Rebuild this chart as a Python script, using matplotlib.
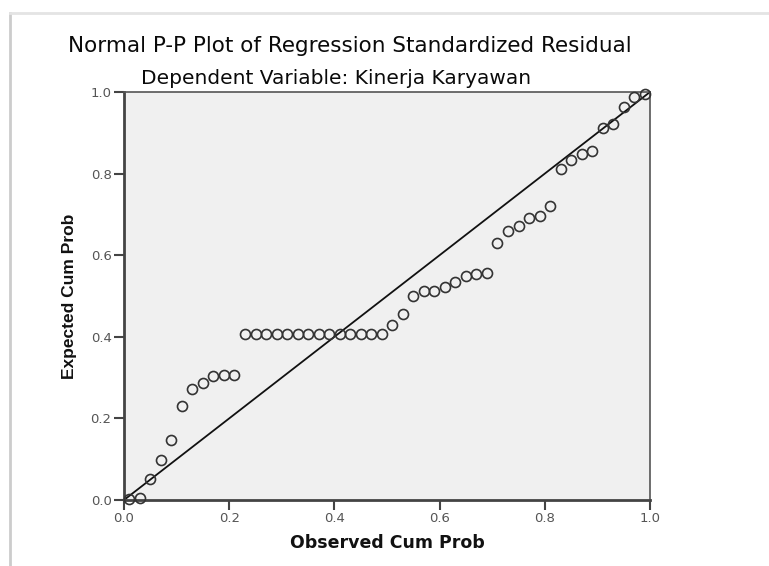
import matplotlib
matplotlib.use("Agg")
import matplotlib.pyplot as plt
from matplotlib.lines import Line2D

title = "Normal P-P Plot of Regression Standardized Residual"
subtitle = "Dependent Variable: Kinerja Karyawan"
xlabel = "Observed Cum Prob"
ylabel = "Expected Cum Prob"
tick_values = [0.0, 0.2, 0.4, 0.6, 0.8, 1.0]
tick_labels = ["0.0", "0.2", "0.4", "0.6", "0.8", "1.0"]

observed = [0.01, 0.03, 0.05, 0.07, 0.09, 0.11, 0.13, 0.15, 0.17, 0.19,
            0.21, 0.23, 0.25, 0.27, 0.29, 0.31, 0.33, 0.35, 0.37, 0.39,
            0.41, 0.43, 0.45, 0.47, 0.49, 0.51, 0.53, 0.55, 0.57, 0.59,
            0.61, 0.63, 0.65, 0.67, 0.69, 0.71, 0.73, 0.75, 0.77, 0.79,
            0.81, 0.83, 0.85, 0.87, 0.89, 0.91, 0.93, 0.95, 0.97, 0.99]
expected = [0.002, 0.005, 0.052, 0.098, 0.146, 0.230, 0.271, 0.286, 0.304, 0.306,
            0.306, 0.406, 0.406, 0.406, 0.406, 0.406, 0.406, 0.406, 0.406, 0.406,
            0.406, 0.406, 0.406, 0.406, 0.406, 0.429, 0.455, 0.501, 0.513, 0.513,
            0.523, 0.535, 0.549, 0.555, 0.557, 0.629, 0.660, 0.671, 0.691, 0.696,
            0.720, 0.812, 0.833, 0.847, 0.855, 0.912, 0.921, 0.963, 0.988, 0.994]

plt.rcParams['font.family'] = ['DejaVu Sans']

W, H = 769, 566
fig = plt.figure(figsize=(W / 100, H / 100), dpi=100)
fig.patch.set_facecolor('white')

# axes rectangle in pixels: left 124, right 650, top 92, bottom 500
L, R, T, B = 124, 650, 92, 500
ax = fig.add_axes([L / W, 1 - B / H, (R - L) / W, (B - T) / H])
ax.set_facecolor('#f0f0f0')
ax.set_xlim(0, 1)
ax.set_ylim(0, 1)

ax.plot([0, 1], [0, 1], color='#111111', lw=1.3, zorder=2)
ax.plot(observed, expected, linestyle='none', marker='o', markersize=7.2,
        markerfacecolor='none', markeredgecolor='#333333', markeredgewidth=1.2,
        zorder=3, clip_on=False)

ax.set_xticks(tick_values)
ax.set_xticklabels(tick_labels)
ax.set_yticks(tick_values)
ax.set_yticklabels(tick_labels)
ax.tick_params(direction='out', length=7, width=1.5, color='#444444',
               labelcolor='#555555', labelsize=9.5, pad=2)

for side in ['left', 'bottom']:
    ax.spines[side].set_linewidth(2.0)
    ax.spines[side].set_color('#444444')
for side in ['top', 'right']:
    ax.spines[side].set_linewidth(1.2)
    ax.spines[side].set_color('#555555')

ax.set_xlabel(xlabel, fontsize=12.5, fontweight='bold', color='#111111', labelpad=6)
ax.set_ylabel(ylabel, fontsize=12.5, fontweight='bold', color='#111111', labelpad=10,
              family=['Liberation Sans', 'DejaVu Sans'])

fig.text(350 / W, 1 - 46 / H, title, ha='center', va='center', fontsize=15.5,
         color='#0a0a0a')
fig.text(336 / W, 1 - 78 / H, subtitle, ha='center', va='center', fontsize=14.5,
         color='#0a0a0a')

# screenshot frame shadow lines
fig.add_artist(Line2D([10 / W, 10 / W], [0, 1 - 13 / H], transform=fig.transFigure,
                      color='#cccccc', lw=2))
fig.add_artist(Line2D([10 / W, 1], [1 - 13 / H, 1 - 13 / H], transform=fig.transFigure,
                      color='#e4e4e4', lw=2))

fig.savefig('out.png', dpi=100)
